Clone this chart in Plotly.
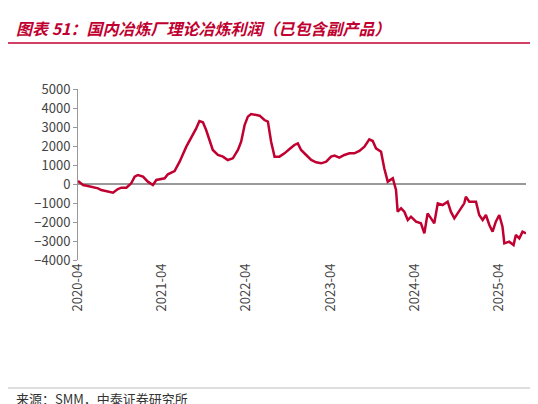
import plotly.graph_objects as go

dates = ["2020-04-01","2020-04-23","2020-05-14","2020-06-27","2020-07-11","2020-08-24","2020-08-31","2020-09-21","2020-10-06","2020-10-28","2020-11-18","2020-12-03","2020-12-17",
"2021-01-08","2021-01-29","2021-02-20","2021-03-07","2021-04-12","2021-04-26","2021-05-25","2021-06-16","2021-07-15","2021-08-05","2021-08-27","2021-09-10","2021-09-25","2021-10-09","2021-10-24","2021-11-07","2021-11-29","2021-12-21",
"2022-01-11","2022-02-02","2022-02-24","2022-03-10","2022-03-25","2022-04-08","2022-04-22","2022-05-07","2022-05-29","2022-06-19","2022-07-04","2022-07-18","2022-08-02","2022-08-23","2022-09-14","2022-10-06","2022-10-27","2022-11-11","2022-11-25","2022-12-17",
"2023-01-08","2023-01-29","2023-02-20","2023-03-14","2023-04-04","2023-04-19","2023-05-10","2023-06-01","2023-06-23","2023-07-14","2023-08-05","2023-08-27","2023-09-17","2023-10-02","2023-10-16","2023-11-07","2023-11-21","2023-12-06","2023-12-28",
"2024-01-11","2024-01-18","2024-02-02","2024-02-16","2024-03-02","2024-03-16","2024-04-07","2024-04-28","2024-05-13","2024-05-27","2024-06-11","2024-06-25","2024-07-10","2024-07-31","2024-08-22","2024-09-05","2024-09-20","2024-10-12","2024-11-02","2024-11-09","2024-11-24","2024-12-23",
"2025-01-06","2025-01-21","2025-02-04","2025-02-19","2025-03-05","2025-03-19","2025-04-03","2025-04-17","2025-04-25","2025-05-16","2025-06-04","2025-06-14","2025-06-29","2025-07-13","2025-07-28"]
profit = [158,-53,-105,-228,-316,-404,-456,-263,-193,-193,35,386,474,
386,123,-53,211,298,509,684,1175,1965,2404,2930,3316,3246,2842,2228,1789,1526,1439,
1263,1351,1789,2228,3105,3544,3684,3632,3596,3368,3281,2228,1439,1439,1614,1842,2053,2140,1789,1526,
1263,1140,1088,1175,1439,1491,1386,1526,1614,1614,1737,1965,2351,2263,1877,1702,825,123,298,
-316,-1456,-1281,-1456,-1895,-1719,-1982,-2070,-2596,-1544,-1807,-2070,-1018,-1105,-930,-1456,-1807,-1368,-1018,-667,-930,-930,
-1632,-1895,-1632,-2158,-2509,-1982,-1632,-2246,-3123,-3035,-3211,-2684,-2860,-2509,-2596]
tickvals = ["2020-04-01","2021-04-01","2022-04-01","2023-04-01","2024-04-01","2025-04-01"]
ticktext = ["2020-04","2021-04","2022-04","2023-04","2024-04","2025-04"]

red = "#C00030"
font = "Noto Sans CJK SC"
T, B = 81, 152
H = 404 - T - B
fig = go.Figure(go.Scatter(x=dates, y=profit, mode="lines", line=dict(color=red, width=2.5)))
fig.update_layout(
    width=538, height=404, paper_bgcolor="white", plot_bgcolor="white",
    margin=dict(l=70, r=20, t=T, b=B), showlegend=False,
    font=dict(family=font, size=13, color="#333"),
    xaxis=dict(range=["2020-04-01","2025-07-28"], tickvals=tickvals, ticktext=ticktext,
               tickangle=-90, showgrid=False, showline=False, ticks="", tickfont=dict(size=13, color="#444")),
    yaxis=dict(range=[-4000,5000], dtick=1000, showgrid=False, showline=True, linecolor="#999",
               ticks="outside", ticklen=4, tickcolor="#999", zeroline=True, zerolinecolor="#999", zerolinewidth=1.5,
               tickfont=dict(size=13, color="#444")),
)
fig.add_annotation(x=0, y=1, xref="paper", yref="paper", xanchor="left", yanchor="top", xshift=-64, yshift=T-6,
    text="<b><i>图表 51：国内冶炼厂理论冶炼利润（已包含副产品）</i></b>", showarrow=False, font=dict(size=16, color=red, family=font))
fig.add_shape(type="line", xref="paper", yref="paper", x0=-70/448, x1=1+20/448, y0=1+(T-35)/H, y1=1+(T-35)/H, line=dict(color=red, width=1.5))
fig.add_shape(type="line", xref="paper", yref="paper", x0=-70/448, x1=1+20/448, y0=-128/H, y1=-128/H, line=dict(color="#bbb", width=1))
fig.add_annotation(x=0, y=0, xref="paper", yref="paper", xanchor="left", yanchor="middle", xshift=-64, yshift=-138,
    text="来源：SMM，中泰证券研究所", showarrow=False, font=dict(size=13, color="#333", family=font))
fig.write_html("out.html")
